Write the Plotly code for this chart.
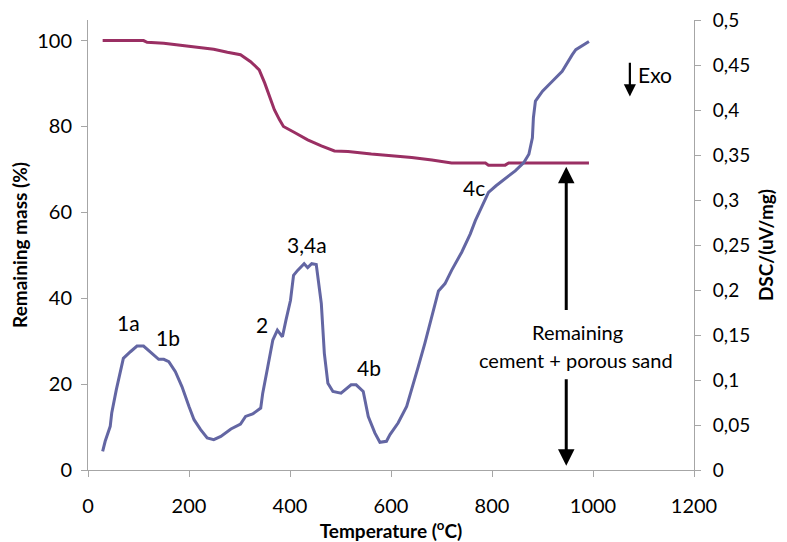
import plotly.graph_objects as go

# Remaining mass (TG) curve
mass_T = [29, 110, 117, 150, 183, 216, 249, 276, 302, 322, 339, 350, 359, 369, 379, 387,
          409, 435, 462, 488, 515, 541, 561, 601, 641, 681, 720, 787, 793, 826, 833, 992]
mass_val = [100.0, 100.0, 99.6, 99.4, 98.9, 98.5, 98.0, 97.3, 96.7, 95.1, 93.2, 90.1, 87.0, 83.9, 81.6, 80.0,
            78.6, 76.9, 75.5, 74.3, 74.2, 73.8, 73.6, 73.2, 72.8, 72.2, 71.5, 71.5, 71.0, 71.0, 71.5, 71.5]

# DSC curve
dsc_T = [29, 34, 44, 47, 56, 64, 70, 84, 97, 110, 123, 140, 150, 160, 173, 186, 200, 210, 223, 236,
         249, 263, 283, 302, 312, 326, 342, 346, 356, 366, 375, 385, 392, 401, 407, 415, 428, 435,
         443, 452, 462, 468, 475, 485, 501, 521, 531, 545, 555, 568, 578, 591, 598, 614, 631, 641,
         654, 667, 681, 694, 707, 720, 740, 757, 767, 793, 808, 833, 846, 863, 873, 880, 882, 886,
         900, 919, 939, 959, 966, 992]
dsc_val = [0.0208, 0.0319, 0.0485, 0.0633, 0.0890, 0.1112, 0.1241, 0.1314, 0.1377, 0.1377, 0.1314,
           0.1230, 0.1230, 0.1204, 0.1093, 0.0927, 0.0706, 0.0559, 0.0448, 0.0356, 0.0337, 0.0374,
           0.0456, 0.0511, 0.0595, 0.0622, 0.0688, 0.0854, 0.1148, 0.1444, 0.1554, 0.1480, 0.1665,
           0.1886, 0.2163, 0.2218, 0.2292, 0.2248, 0.2292, 0.2284, 0.1850, 0.1296, 0.0965, 0.0872,
           0.0854, 0.0946, 0.0946, 0.0872, 0.0595, 0.0412, 0.0308, 0.0319, 0.0393, 0.0522, 0.0706,
           0.0890, 0.1148, 0.1407, 0.1701, 0.1989, 0.2071, 0.2218, 0.2420, 0.2624, 0.2771, 0.3084,
           0.3158, 0.3269, 0.3324, 0.3416, 0.3509, 0.3692, 0.3914, 0.4098, 0.4209, 0.4317, 0.4430,
           0.4615, 0.4670, 0.4762]

x_ticks = [0, 200, 400, 600, 800, 1000, 1200]
mass_ticks = [0, 20, 40, 60, 80, 100]
dsc_ticks = [0, 0.05, 0.1, 0.15, 0.2, 0.25, 0.3, 0.35, 0.4, 0.45, 0.5]

peak_labels = ["1a", "1b", "2", "3,4a", "4b", "4c"]
peak_T = [80, 159, 344, 434, 557, 764]
peak_y = [34.3, 30.8, 33.9, 52.5, 23.8, 65.7]

FONT = "Lato, Open Sans, sans-serif"
AXC = "#a6a6a6"

fig = go.Figure()
fig.add_trace(go.Scatter(x=dsc_T, y=dsc_val, yaxis="y2", mode="lines",
                         line=dict(color="#6366a3", width=3), showlegend=False))
fig.add_trace(go.Scatter(x=mass_T, y=mass_val, mode="lines",
                         line=dict(color="#9a2f63", width=3), showlegend=False))

ann = []
for t, x, y in zip(peak_labels, peak_T, peak_y):
    ann.append(dict(x=x, y=y, xref="x", yref="y", text=t, showarrow=False,
                    font=dict(family=FONT, size=21, color="black")))

# Exo arrow
ann.append(dict(x=1073, y=87.0, ax=1073, ay=95.2, xref="x", yref="y", axref="x", ayref="y",
                text="", showarrow=True, arrowhead=2, arrowsize=1.1, arrowwidth=2.2, arrowcolor="black"))
ann.append(dict(x=1086, y=92.2, xref="x", yref="y", text="Exo", showarrow=False, xanchor="left",
                font=dict(family=FONT, size=21, color="black")))
# Remaining arrows
ann.append(dict(x=947, y=70.6, ax=947, ay=36.9, xref="x", yref="y", axref="x", ayref="y",
                text="", showarrow=True, arrowhead=2, arrowsize=1.1, arrowwidth=3, arrowcolor="black"))
ann.append(dict(x=947, y=1.0, ax=947, ay=21.5, xref="x", yref="y", axref="x", ayref="y",
                text="", showarrow=True, arrowhead=2, arrowsize=1.1, arrowwidth=3, arrowcolor="black"))
ann.append(dict(x=969, y=32.2, xref="x", yref="y", text="Remaining", showarrow=False,
                font=dict(family=FONT, size=20, color="black")))
ann.append(dict(x=967, y=25.7, xref="x", yref="y", text="cement + porous sand", showarrow=False,
                font=dict(family=FONT, size=20, color="black")))

# page body has an 8px default margin, so the figure is sized/offset to compensate
fig.update_layout(
    width=779, height=534,
    margin=dict(l=80, r=93, t=12, b=72),
    paper_bgcolor="white", plot_bgcolor="white",
    separators=",.",
    font=dict(family=FONT, size=20, color="black"),
    annotations=ann,
    xaxis=dict(range=[0, 1200], tickvals=x_ticks, showline=True, linecolor=AXC, linewidth=1,
               ticks="outside", ticklen=6, tickcolor=AXC, showgrid=False, zeroline=False,
               automargin=False, ticklabelstandoff=12, ticklabeloverflow="allow",
               title=dict(text="<b>Temperature (<sup>o</sup>C)</b>", standoff=6,
                          font=dict(family=FONT, size=19))),
    yaxis=dict(range=[0, 104.8], tickvals=mass_ticks, showline=True, linecolor=AXC, linewidth=1,
               ticks="outside", ticklen=6, tickcolor=AXC, showgrid=False, zeroline=False,
               automargin=False, ticklabelstandoff=5, ticklabeloverflow="allow",
               title=dict(text="<b>Remaining mass (%)</b>", standoff=6,
                          font=dict(family=FONT, size=19))),
    yaxis2=dict(range=[0, 0.5], tickvals=dsc_ticks, overlaying="y", side="right",
                showline=True, linecolor=AXC, linewidth=1, ticks="outside", ticklen=6,
                tickcolor=AXC, showgrid=False, zeroline=False, tickformat=".2~f",
                tickfont=dict(family=FONT, size=19),
                automargin=False, ticklabelstandoff=8, ticklabeloverflow="allow",
                title=dict(text="<b>DSC/(uV/mg)</b>", standoff=10,
                           font=dict(family=FONT, size=19))),
)

fig.write_html("out.html")
